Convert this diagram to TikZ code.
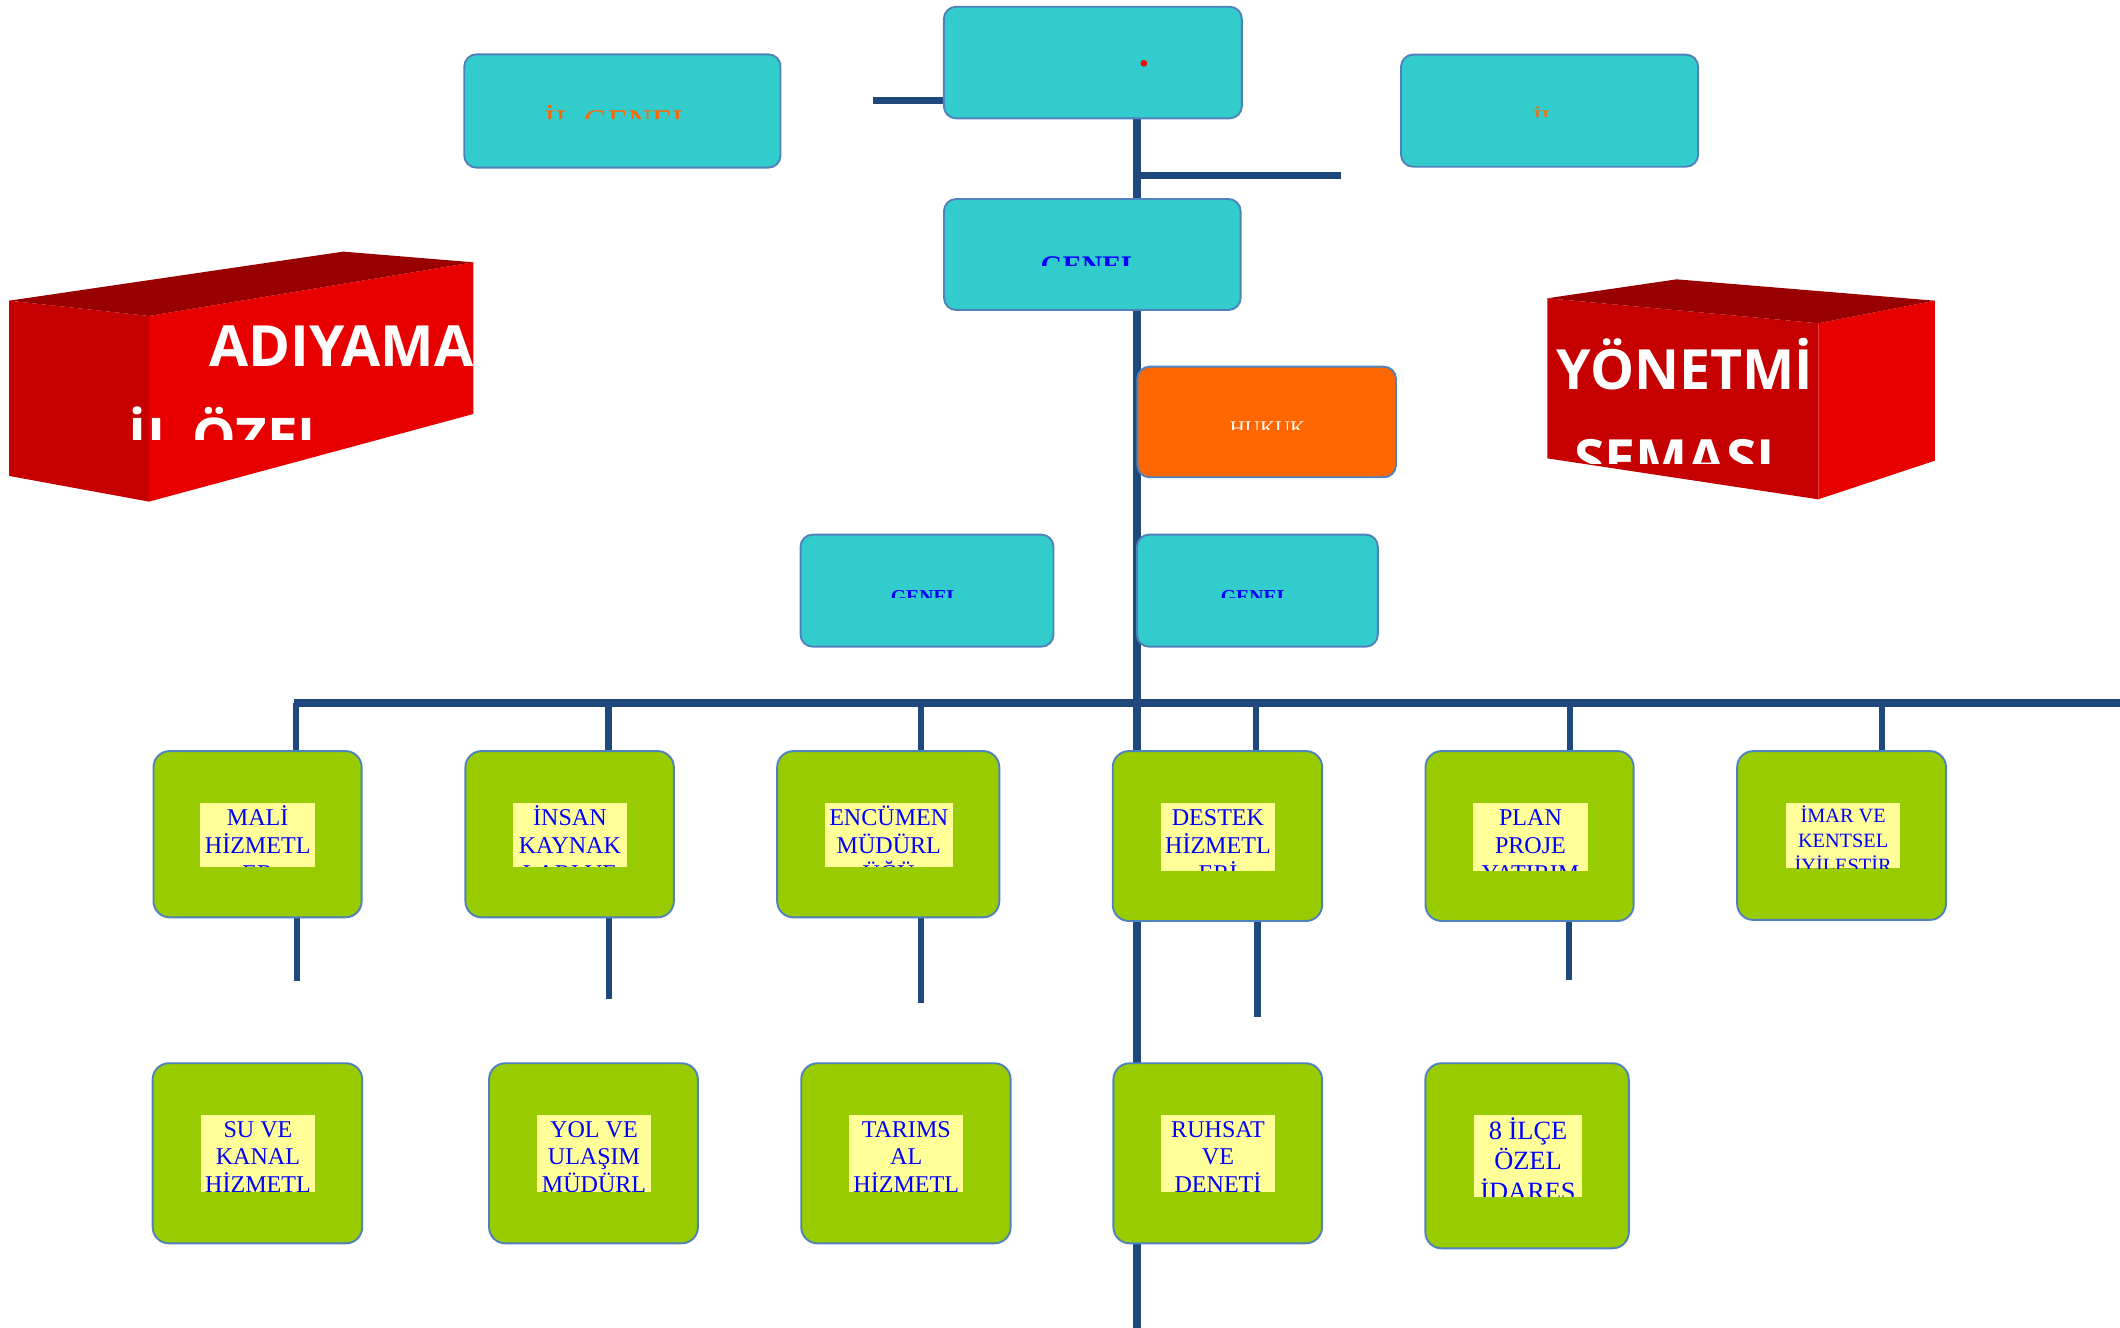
\documentclass[tikz,border=0pt]{standalone}
\usepackage{fontspec}
\setmainfont{Liberation Serif}
\newfontfamily\titlefont{Open Sans}
\usetikzlibrary{backgrounds}
\definecolor{cyanfill}{HTML}{33CCCC}
\definecolor{greenfill}{HTML}{99CC00}
\definecolor{yellowfill}{HTML}{FFFF99}
\definecolor{orangefill}{HTML}{FF6600}
\definecolor{boxborder}{HTML}{4F81BD}
\definecolor{linecol}{HTML}{1F497D}
\definecolor{blocktop}{HTML}{990000}
\definecolor{blockdark}{HTML}{C60000}
\definecolor{blockbright}{HTML}{E80000}
\definecolor{txtblue}{HTML}{0000FF}
\definecolor{txtorange}{HTML}{FF6600}

\tikzset{
  cyanbox/.style={rectangle, rounded corners=9pt, fill=cyanfill, draw=boxborder, line width=1.4pt, inner sep=0pt},
  orangebox/.style={cyanbox, fill=orangefill},
  greenbox/.style={rectangle, rounded corners=12pt, fill=greenfill, draw=boxborder, line width=1.4pt, inner sep=0pt},
  ylwbox/.style={rectangle, fill=yellowfill, inner sep=0pt},
  conn/.style={draw=linecol, line width=5.8pt},
  dropconn/.style={draw=linecol, line width=4.6pt},
  bluetxt/.style={font=\fontsize{17.8}{20}\selectfont, text=txtblue},
  smallbluetxt/.style={font=\fontsize{15}{18}\selectfont, text=txtblue},
  bigbluetxt/.style={font=\fontsize{19.5}{22}\selectfont, text=txtblue},
  titletxt/.style={font=\titlefont\bfseries\fontsize{42}{42}\selectfont, text=white, inner sep=0pt},
}

% box from corners
\newcommand\boxat[6]{%
  \node[#2, minimum width={(#5-#3)*1pt}, minimum height={(#6-#4)*1pt}] (#1) at ({(#3+#5)/2},{(#4+#6)/2}) {};}
% yellow label with clipped lines
\newcommand\ylabel[9]{%
  \node[ylwbox, minimum width={(#4-#2)*1pt}, minimum height={(#5-#3)*1pt}] (#1) at ({(#2+#4)/2},{(#3+#5)/2}) {};
  \begin{scope}
    \clip (#2,#3) rectangle (#4,#5);
    \foreach \myline [count=\k] in {#9} {\node[#8, anchor=base, inner sep=0pt] (#1-\k) at ({(#2+#4)/2},{#6+(\k-1)*#7}) {\myline};}
  \end{scope}}
% single clipped text
\newcommand\cliptxt[6]{%
  \begin{scope}\clip #2; \node[#5, anchor=base, inner sep=0pt] (#1) at (#3,#4) {#6};\end{scope}}

\begin{document}
\begin{tikzpicture}[x=1pt, y=-1pt]
\useasboundingbox (0,0) rectangle (1568,982);

% ---- 3D title blocks ----
\fill[blockdark] (6.7,222.4) -- (110.2,233.7) -- (110.2,371) -- (6.7,352) -- cycle;
\fill[blockbright] (110.2,233.7) -- (350.1,194) -- (350.1,306.2) -- (110.2,371) -- cycle;
\fill[blocktop] (6.7,222.4) -- (253.9,186.1) -- (350.1,194) -- (110.2,233.7) -- cycle;
\begin{scope}
  \clip (0,150) rectangle (350.1,324.9);
  \node[titletxt, anchor=base west] (ttlA) at (154.8,270.7) {ADIYAMAN};
  \node[titletxt, anchor=base west, font=\titlefont\bfseries\fontsize{40.5}{40.5}\selectfont] (ttlB) at (95.2,338.3) {İL ÖZEL};
\end{scope}

\fill[blockdark] (1144.4,220.6) -- (1344.8,239.1) -- (1344.8,369.3) -- (1144.4,339) -- cycle;
\fill[blockbright] (1344.8,239.1) -- (1431.1,222.4) -- (1431.1,340.7) -- (1344.8,369.3) -- cycle;
\fill[blocktop] (1144.4,220.6) -- (1240.1,206.6) -- (1431.1,222.4) -- (1344.8,239.1) -- cycle;
\begin{scope}
  \clip (1140,200) rectangle (1431.1,342.7);
  \node[titletxt, anchor=base west, font=\titlefont\bfseries\fontsize{41}{41}\selectfont] (ttlC) at (1151.3,288.4) {YÖNETMİ};
  \node[titletxt, anchor=base west, font=\titlefont\bfseries\fontsize{41}{41}\selectfont] (ttlD) at (1164,354.7) {ŞEMASI};
\end{scope}

% ---- upper boxes ----
\boxat{t0}{cyanbox}{698.1}{5}{918.5}{87.5}
\node[circle, fill=red, inner sep=0pt, minimum size=5pt] (reddot) at (846,46.8) {};
\boxat{tl}{cyanbox}{343.4}{40.2}{577.3}{124}
\cliptxt{tltxt}{(343.4,40.2) rectangle (577.3,87.5)}{457.4}{97.7}{font=\fontsize{24.5}{27}\selectfont, text=txtorange}{İL GENEL}
\boxat{tr}{cyanbox}{1036.2}{40.4}{1256}{123.3}
\cliptxt{trtxt}{(1036.2,40.4) rectangle (1256,86.3)}{1142.9}{94.5}{font=\fontsize{18.8}{21}\selectfont, text=txtorange}{İL}
\boxat{g1}{cyanbox}{698.2}{147.2}{917.6}{229.3}
\cliptxt{g1txt}{(698.2,147.2) rectangle (917.6,196)}{806.5}{204}{font=\bfseries\fontsize{21}{24}\selectfont, text=txtblue}{GENEL}
\boxat{hk}{orangebox}{841.2}{271.2}{1032.5}{353}
\cliptxt{hktxt}{(841.2,271.2) rectangle (1032.5,318)}{937.5}{322.1}{font=\fontsize{15.4}{18}\selectfont, text=white}{HUKUK}
\boxat{g2}{cyanbox}{592.1}{395.4}{779.2}{478.3}
\cliptxt{g2txt}{(592.1,395.4) rectangle (779.2,441.8)}{684.4}{446.1}{font=\bfseries\fontsize{14.6}{17}\selectfont, text=txtblue}{GENEL}
\boxat{g3}{cyanbox}{840.9}{395.4}{1019.1}{478.3}
\cliptxt{g3txt}{(840.9,395.4) rectangle (1019.1,441.8)}{928.5}{446.1}{font=\bfseries\fontsize{14.6}{17}\selectfont, text=txtblue}{GENEL}

% ---- row 1 ----
\boxat{mali}{greenbox}{113.5}{555.5}{267.5}{678.5}
\ylabel{maliL}{148.1}{593.7}{233.1}{641}{610.2}{20.9}{bluetxt}{MALİ,HİZMETL,ER}
\boxat{insan}{greenbox}{344.2}{555.5}{498.4}{678.5}
\ylabel{insanL}{379.5}{593.7}{463.5}{641}{610.2}{20.9}{bluetxt}{İNSAN,KAYNAK,LARI VE}
\boxat{encu}{greenbox}{574.8}{555.5}{739.1}{678.5}
\ylabel{encuL}{610}{593.7}{704.7}{641}{610.2}{20.9}{bluetxt}{ENCÜMEN,MÜDÜRL,ÜĞÜ}
\boxat{destek}{greenbox}{823}{555.5}{977.9}{681.2}
\ylabel{destekL}{858.5}{593.7}{943.1}{644}{610.2}{20.9}{bluetxt}{DESTEK,HİZMETL,ERİ}
\boxat{plan}{greenbox}{1054.3}{555.5}{1208.3}{681.2}
\ylabel{planL}{1089.5}{593.7}{1174.4}{644}{610.2}{20.9}{bluetxt}{PLAN,PROJE,YATIRIM}
\boxat{imar}{greenbox}{1284.8}{555.5}{1439.3}{680.4}
\ylabel{imarL}{1321}{593.7}{1405.4}{642}{608.2}{18.4}{smallbluetxt}{İMAR VE,KENTSEL,İYİLEŞTİR}

% ---- row 2 ----
\boxat{su}{greenbox}{112.9}{786.4}{267.9}{919.6}
\ylabel{suL}{148.5}{824.7}{233.1}{881.6}{841.2}{20.3}{bluetxt}{SU VE,KANAL,HİZMETL}
\boxat{yol}{greenbox}{361.7}{786.4}{516.2}{919.6}
\ylabel{yolL}{397.3}{824.7}{481.4}{881.6}{841.2}{20.3}{bluetxt}{YOL VE,ULAŞIM,MÜDÜRL}
\boxat{tarim}{greenbox}{592.6}{786.4}{747.5}{919.6}
\ylabel{tarimL}{628.3}{824.7}{712.3}{881.6}{841.2}{20.3}{bluetxt}{TARIMS,AL,HİZMETL}
\boxat{ruhsat}{greenbox}{823.5}{786.4}{977.8}{919.6}
\ylabel{ruhsatL}{858.8}{824.7}{942.9}{881.6}{841.2}{20.3}{bluetxt}{RUHSAT,VE,DENETİ}
\boxat{ilce}{greenbox}{1054.2}{786.4}{1204.7}{923.3}
\ylabel{ilceL}{1090.1}{824.7}{1170.2}{885.1}{842.7}{22.6}{bigbluetxt}{8 İLÇE,ÖZEL,İDARES}

% ---- connectors (behind boxes) ----
\coordinate (l1end) at (646,74.3);
\coordinate (l2end) at (991.6,129.8);
\coordinate (vbot) at (841.2,982);
\coordinate (busL) at (217.4,520.2);
\coordinate (busR) at (1568,520.2);
\coordinate (d1) at (219.2,520.2);
\coordinate (d2) at (450.1,520.2);
\coordinate (d3) at (680.9,520.2);
\coordinate (d4) at (929.2,520.2);
\coordinate (d5) at (1161,520.2);
\coordinate (d6) at (1391.8,520.2);
\coordinate (e1) at (219.5,725.3);
\coordinate (e2) at (450.5,738.6);
\coordinate (e3) at (681.1,742.1);
\coordinate (e4) at (930,752.4);
\coordinate (e5) at (1160.5,724.8);
\begin{scope}[on background layer]
  \draw[conn] (l1end) -- (l1end -| t0.west);
  \draw[conn] (t0.south -| vbot) -- (vbot);
  \draw[conn] (l2end -| vbot) -- (l2end);
  \draw[conn] (busL) -- (busR);
  \draw[dropconn] (d1) -- (d1 |- mali.north);
  \draw[dropconn] (d2) -- (d2 |- insan.north);
  \draw[dropconn] (d3) -- (d3 |- encu.north);
  \draw[dropconn] (d4) -- (d4 |- destek.north);
  \draw[dropconn] (d5) -- (d5 |- plan.north);
  \draw[dropconn] (d6) -- (d6 |- imar.north);
  \draw[dropconn] (e1 |- mali.south) -- (e1);
  \draw[dropconn] (e2 |- insan.south) -- (e2);
  \draw[dropconn] (e3 |- encu.south) -- (e3);
  \draw[dropconn] (e4 |- destek.south) -- (e4);
  \draw[dropconn] (e5 |- plan.south) -- (e5);
\end{scope}
\end{tikzpicture}
\end{document}
